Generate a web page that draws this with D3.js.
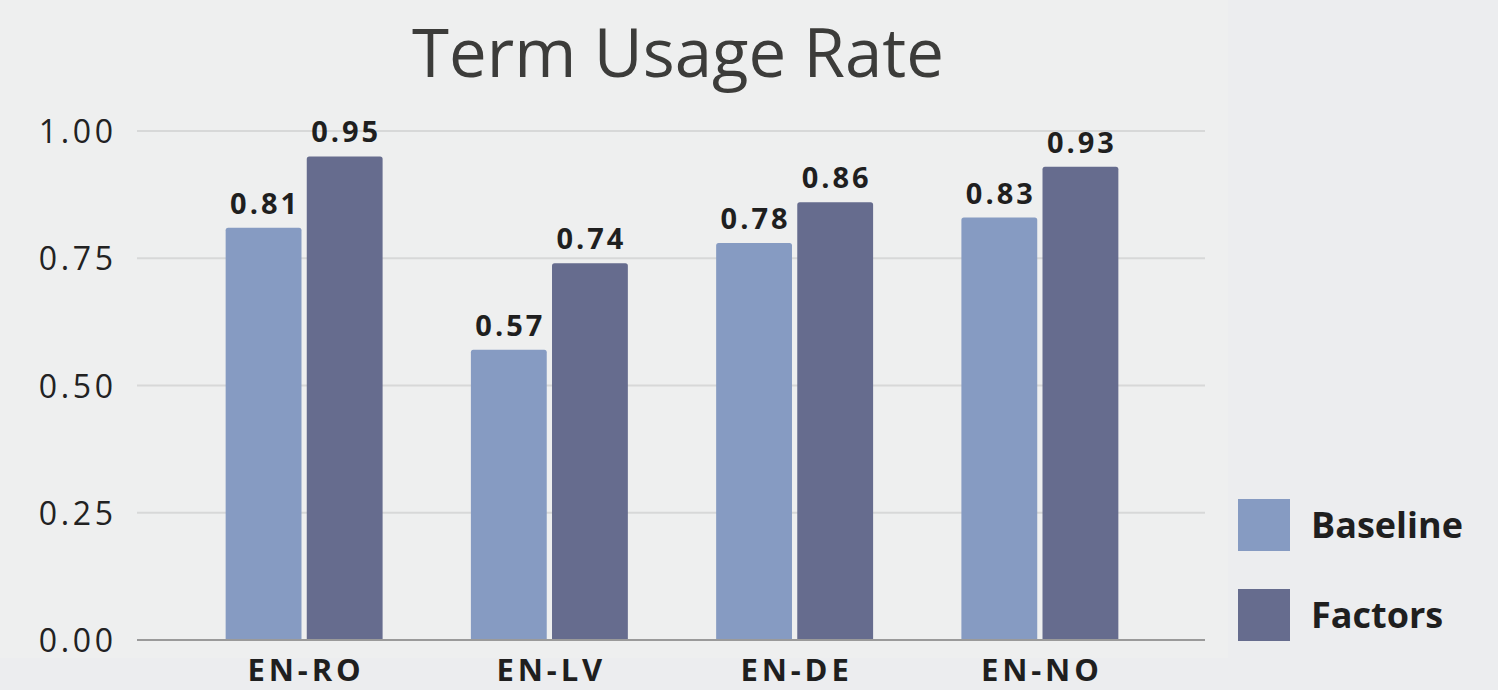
<!DOCTYPE html>
<html><head><meta charset="utf-8">
<script src="https://cdn.jsdelivr.net/npm/d3@7"></script>
<style>
html,body{margin:0;padding:0;background:#ecedef;}
svg{display:block;}
text{font-family:"Open Sans","Lato",sans-serif;}
</style></head>
<body>
<svg id="chart" width="1498" height="690"></svg>
<script>
const categories = ["EN-RO","EN-LV","EN-DE","EN-NO"];
const seriesNames = ["Baseline","Factors"];
const baseline = [0.81,0.57,0.78,0.83];
const factors = [0.95,0.74,0.86,0.93];
const yTicks = [0,0.25,0.5,0.75,1.0];
const colors = ["#869bc2","#666c8e"];
const title = "Term Usage Rate";

const svg = d3.select("#chart");

// fit letter-spacing so a selection's reference string reaches a target width
function fitSpacing(sel, refText, target){
  const probe = svg.append("text").attr("font-size",sel.attr("font-size")).attr("font-weight",sel.attr("font-weight")||400).text(refText);
  const w = probe.node().getComputedTextLength();
  probe.remove();
  return Math.max(0,(target - w) / refText.length);
}

// plot panel background
svg.append("rect").attr("x",0).attr("y",0).attr("width",1228).attr("height",658).attr("fill","#eeefef");

const y = d3.scaleLinear().domain([0,1]).range([640,131]);
const x0 = d3.scaleBand().domain(categories).range([181.5,1162.5]).paddingInner(0.36).paddingOuter(0.18);
const x1 = d3.scaleBand().domain(seriesNames).range([0,x0.bandwidth()]).paddingInner(0.065);

// gridlines
svg.append("g").selectAll("line").data(yTicks.filter(d=>d>0)).join("line")
  .attr("x1",137).attr("x2",1205).attr("y1",d=>y(d)).attr("y2",d=>y(d))
  .attr("stroke","#d7d8d8").attr("stroke-width",2);

// y axis labels
const yAxis = d3.axisLeft(y).tickValues(yTicks).tickFormat(d3.format(".2f")).tickSize(0).tickPadding(0);
const gy = svg.append("g").attr("transform","translate(113,0)").call(yAxis);
gy.select(".domain").remove();
const yt = gy.selectAll("text").attr("font-size",32).attr("font-weight",400).attr("fill","#222").attr("dy","0.36em").style("font-family",null);
const ySp = fitSpacing(yt, "1.00", 78);
yt.style("letter-spacing",ySp+"px").attr("dx",ySp);

const data = categories.map((c,i)=>({cat:c, vals:[{s:"Baseline",v:baseline[i]},{s:"Factors",v:factors[i]}]}));

const groups = svg.append("g").selectAll("g").data(data).join("g")
  .attr("transform",d=>`translate(${x0(d.cat)},0)`);

groups.selectAll("path").data(d=>d.vals).join("path")
  .attr("d",d=>{
    const bx=x1(d.s), bw=x1.bandwidth(), top=y(d.v), bot=y(0), r=2.5;
    return `M${bx},${bot}V${top+r}Q${bx},${top} ${bx+r},${top}H${bx+bw-r}Q${bx+bw},${top} ${bx+bw},${top+r}V${bot}Z`;
  })
  .attr("fill",(d,i)=>colors[i]);

const vl = groups.selectAll("text").data(d=>d.vals).join("text")
  .attr("y",d=>y(d.v)-14)
  .attr("text-anchor","middle").attr("font-size",29).attr("font-weight",700).attr("fill","#1f1f1f")
  .text(d=>d.v.toFixed(2));
const vSp = fitSpacing(vl, "0.81", 70);
vl.style("letter-spacing",vSp+"px").attr("x",d=>x1(d.s)+x1.bandwidth()/2+vSp/2);

// baseline axis line
svg.append("line").attr("x1",137).attr("x2",1205).attr("y1",y(0)).attr("y2",y(0))
  .attr("stroke","#9a9a9a").attr("stroke-width",2);

// x axis labels
const xAxis = d3.axisBottom(x0).tickSize(0).tickPadding(0);
const gx = svg.append("g").attr("transform","translate(0,681)").call(xAxis);
gx.select(".domain").remove();
const xt = gx.selectAll("text").attr("font-size",31).attr("font-weight",700).attr("fill","#1f1f1f").attr("dy",0).style("font-family",null);
const xSp = fitSpacing(xt, "EN-RO", 117);
xt.style("letter-spacing",xSp+"px").attr("dx",xSp/2);

// title
const t = svg.append("text").attr("x",678).attr("y",77).attr("text-anchor","middle")
  .attr("font-size",68).attr("fill","#3c3c3a").text(title);
const tw = t.node().getComputedTextLength();
t.attr("font-size",68*532/tw);

// legend
const leg = svg.append("g").selectAll("g").data(seriesNames).join("g")
  .attr("transform",(d,i)=>`translate(1238,${499+i*90})`);
leg.append("rect").attr("width",52).attr("height",52).attr("fill",(d,i)=>colors[i]);
const lt = leg.append("text").attr("x",73).attr("y",26).attr("dy","0.36em").attr("font-size",36).attr("font-weight",700)
  .attr("fill","#1f1f1f").text(d=>d);
const lSp = fitSpacing(lt, "Baseline", 152);
lt.style("letter-spacing",lSp+"px");
</script>
</body></html>
